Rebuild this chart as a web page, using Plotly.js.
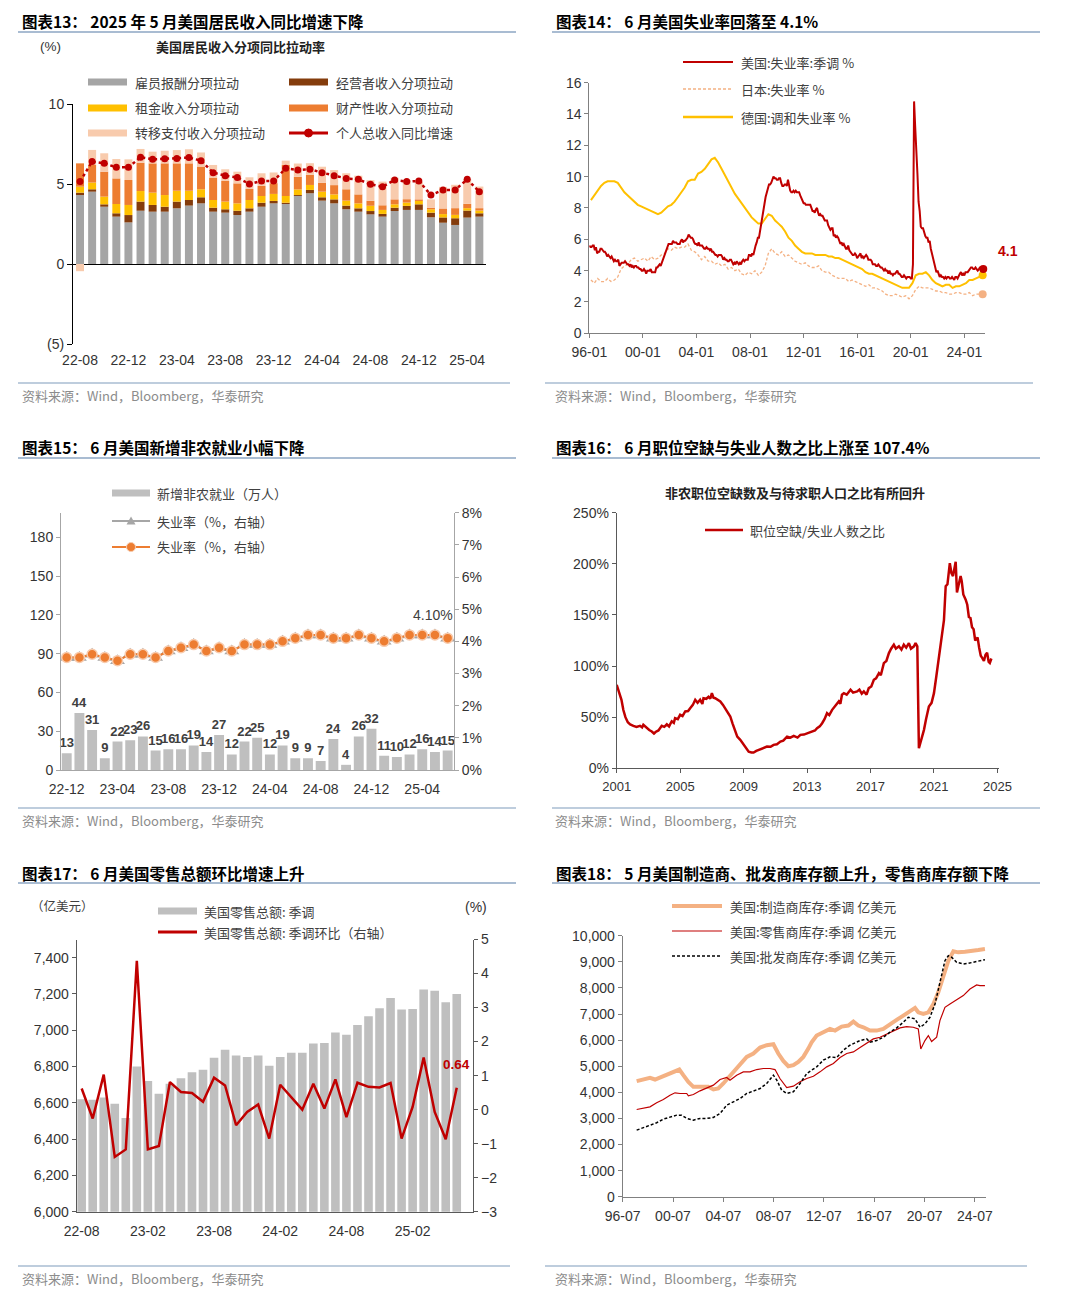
<!DOCTYPE html>
<html><head><meta charset="utf-8">
<script src="https://cdn.plot.ly/plotly-3.0.1.min.js"></script>
<style>html,body{margin:0;padding:0;background:#fff}#chart{width:1080px;height:1298px}</style>
</head><body><div id="chart"></div>
<script>
// ================= DATA =================
// 图表13
const p1Months = ['22-08','22-09','22-10','22-11','22-12','23-01','23-02','23-03','23-04','23-05','23-06','23-07','23-08','23-09','23-10','23-11','23-12','24-01','24-02','24-03','24-04','24-05','24-06','24-07','24-08','24-09','24-10','24-11','24-12','25-01','25-02','25-03','25-04','25-05'];
const p1Comp     = [4.31,4.52,3.58,2.96,2.60,3.33,3.27,3.27,3.48,3.65,3.79,3.27,3.21,3.06,3.27,3.58,3.79,3.75,4.25,4.42,3.96,3.79,3.42,3.27,3.10,2.96,3.31,3.38,3.38,2.92,2.58,2.44,2.90,2.96];
const p1Prop     = [0.15,0.15,0.15,0.21,0.46,0.57,0.42,0.31,0.42,0.35,0.38,0.25,0.21,0.27,0.21,0.25,0.15,0.08,0.06,0.21,0.21,0.25,0.23,0.21,0.21,0.17,0.21,0.25,0.35,0.29,0.33,0.42,0.44,0.21];
const p1Rent     = [0.37,0.42,0.48,0.58,0.63,0.66,0.77,0.73,0.68,0.58,0.50,0.48,0.48,0.46,0.52,0.42,0.44,0.42,0.35,0.31,0.35,0.31,0.31,0.31,0.33,0.25,0.21,0.21,0.21,0.21,0.21,0.21,0.15,0.17];
const p1Asset    = [1.46,1.10,1.56,1.60,1.56,1.77,1.83,1.98,1.71,1.71,1.42,1.40,1.29,1.25,0.69,0.63,0.67,1.94,0.79,0.63,0.56,0.58,0.71,0.56,0.31,0.29,0.31,0.21,0.10,0.10,0.35,0.42,0.27,0.15];
const p1Transfer = [-0.45,0.94,1.15,1.21,1.29,0.86,0.73,0.79,0.83,0.88,0.88,0.79,0.73,0.73,0.73,0.79,0.67,0.27,0.83,0.73,1.00,0.94,1.00,1.17,1.29,1.48,1.35,1.21,1.10,0.52,1.35,1.46,1.54,1.35];
const p1Total    = [5.15,6.40,6.29,6.04,6.04,6.67,6.54,6.58,6.60,6.65,6.46,5.71,5.52,5.40,5.00,5.19,5.19,5.98,5.88,5.92,5.71,5.52,5.35,5.29,4.98,4.83,5.25,5.15,5.19,4.31,4.63,4.63,5.29,4.52];
const p1Names = ['雇员报酬分项拉动','经营者收入分项拉动','租金收入分项拉动','财产性收入分项拉动','转移支付收入分项拉动','个人总收入同比增速'];

// 图表14 (monthly US from 1996-01; quarterly JP/DE from 1996Q1)
const p2US = [
5.6,5.5,5.5,5.6,5.6,5.3,5.5,5.1,5.2,5.2,5.4,5.4,
5.3,5.2,5.2,5.1,4.9,5.0,4.9,4.8,4.9,4.7,4.6,4.7,
4.6,4.6,4.7,4.3,4.4,4.5,4.5,4.5,4.6,4.5,4.4,4.4,
4.3,4.4,4.2,4.3,4.2,4.3,4.3,4.2,4.2,4.1,4.1,4.0,
4.0,4.1,4.0,3.8,4.0,4.0,4.0,4.1,3.9,3.9,3.9,3.9,
4.2,4.2,4.3,4.4,4.3,4.5,4.6,4.9,5.0,5.3,5.5,5.7,
5.7,5.7,5.7,5.9,5.8,5.8,5.8,5.7,5.7,5.7,5.9,6.0,
5.8,5.9,5.9,6.0,6.1,6.3,6.2,6.1,6.1,6.0,5.8,5.7,
5.7,5.6,5.8,5.6,5.6,5.6,5.5,5.4,5.4,5.5,5.4,5.4,
5.3,5.4,5.2,5.2,5.1,5.0,5.0,4.9,5.0,5.0,5.0,4.9,
4.7,4.8,4.7,4.7,4.6,4.6,4.7,4.7,4.5,4.4,4.5,4.4,
4.6,4.5,4.4,4.5,4.4,4.6,4.7,4.6,4.7,4.7,4.7,5.0,
5.0,4.9,5.1,5.0,5.4,5.6,5.8,6.1,6.1,6.5,6.8,7.3,
7.8,8.3,8.7,9.0,9.4,9.5,9.5,9.6,9.8,10.0,9.9,9.9,
9.8,9.8,9.9,9.9,9.6,9.4,9.4,9.5,9.5,9.4,9.8,9.3,
9.1,9.0,9.0,9.1,9.0,9.1,9.0,9.0,9.0,8.8,8.6,8.5,
8.3,8.3,8.2,8.2,8.2,8.2,8.2,8.0,7.8,7.8,7.7,7.9,
8.0,7.7,7.5,7.6,7.5,7.5,7.3,7.2,7.2,7.2,6.9,6.7,
6.6,6.7,6.7,6.2,6.3,6.1,6.2,6.1,5.9,5.7,5.8,5.6,
5.7,5.5,5.4,5.4,5.6,5.3,5.2,5.1,5.0,5.0,5.1,5.0,
4.8,4.9,5.0,5.1,4.8,4.9,4.8,4.9,5.0,4.9,4.7,4.7,
4.7,4.6,4.4,4.4,4.4,4.3,4.3,4.4,4.3,4.2,4.2,4.1,
4.0,4.1,4.0,4.0,3.8,4.0,3.8,3.8,3.7,3.8,3.8,3.9,
4.0,3.8,3.8,3.7,3.6,3.6,3.7,3.6,3.5,3.6,3.6,3.6,
3.5,3.5,4.4,14.8,13.2,11.0,10.2,8.4,7.8,6.8,6.7,6.7,
6.4,6.2,6.1,6.1,5.8,5.9,5.4,5.1,4.7,4.5,4.2,3.9,
4.0,3.8,3.6,3.7,3.6,3.6,3.5,3.6,3.5,3.6,3.6,3.5,
3.5,3.6,3.5,3.4,3.6,3.6,3.5,3.7,3.8,3.9,3.7,3.8,
3.7,3.9,3.9,3.9,4.0,4.1,4.2,4.2,4.1,4.1,4.2,4.1,
4.0,4.1,4.2,4.2,4.2,4.1];
const p2JP = [
3.4,3.2,3.5,3.3, 3.3,3.5,3.3,3.4, 3.6,4.1,4.3,4.4, 4.7,4.8,4.6,4.7, 4.8,4.6,4.9,4.7,
4.8,5.0,5.1,5.4, 5.3,5.5,5.4,5.5, 5.5,5.7,5.3,5.2, 5.0,4.7,4.9,4.6, 4.6,4.4,4.5,4.3,
4.4,4.1,4.2,4.0, 4.1,3.8,3.7,3.9, 3.8,4.0,3.7,3.9, 4.3,5.1,5.4,5.1, 5.0,5.2,4.9,5.0,
4.8,4.6,4.5,4.4, 4.5,4.3,4.2,4.2, 4.3,4.0,3.9,3.9, 3.7,3.6,3.5,3.5, 3.5,3.3,3.4,3.3,
3.2,3.1,3.0,3.1, 2.9,2.9,2.8,2.7, 2.5,2.4,2.4,2.5, 2.4,2.3,2.4,2.2, 2.4,2.8,3.0,2.9,
2.9,2.9,2.8,2.7, 2.7,2.6,2.6,2.5, 2.5,2.6,2.6,2.5, 2.5,2.6,2.4,2.5, 2.5,2.5];
const p2DE = [
8.5,8.8,9.1,9.4, 9.6,9.7,9.7,9.7, 9.6,9.3,9.0,8.8, 8.6,8.4,8.2,8.1, 8.0,7.9,7.8,7.7,
7.6,7.7,7.9,8.1, 8.2,8.4,8.7,9.0, 9.3,9.7,9.8,9.8, 10.2,10.3,10.5,10.8, 11.1,11.2,10.9,10.5,
10.1,9.7,9.3,8.9, 8.6,8.3,8.0,7.7, 7.4,7.2,7.0,7.0, 7.3,7.6,7.5,7.2, 7.0,6.8,6.5,6.1,
5.9,5.6,5.4,5.2, 5.1,5.1,5.1,5.0, 5.0,5.0,5.0,4.9, 4.9,4.8,4.8,4.7, 4.6,4.5,4.4,4.3,
4.2,4.1,3.9,3.8, 3.8,3.7,3.6,3.5, 3.4,3.3,3.2,3.1, 3.0,2.9,2.9,2.9, 3.2,3.7,3.8,3.8,
3.9,3.7,3.4,3.2, 3.1,3.0,3.1,3.1, 2.9,3.0,3.0,3.1, 3.2,3.4,3.4,3.5, 3.6,3.7];
const p2Names = ['美国:失业率:季调 %','日本:失业率 %','德国:调和失业率 %'];
const p2TickDates = ['1996-01-01','2000-01-01','2004-01-01','2008-01-01','2012-01-01','2016-01-01','2020-01-01','2024-01-01'];
const p2TickText = ['96-01','00-01','04-01','08-01','12-01','16-01','20-01','24-01'];

// 图表15
const p3Months = ['22-12','23-01','23-02','23-03','23-04','23-05','23-06','23-07','23-08','23-09','23-10','23-11','23-12','24-01','24-02','24-03','24-04','24-05','24-06','24-07','24-08','24-09','24-10','24-11','24-12','25-01','25-02','25-03','25-04','25-05','25-06'];
const p3Payrolls = [13,44,31,9,22,23,26,15,16,16,19,14,27,12,22,25,12,19,9,9,7,24,4,26,32,11,10,12,16,14,15];
const p3Unemp = [3.5,3.5,3.6,3.5,3.4,3.6,3.6,3.5,3.7,3.8,3.9,3.7,3.8,3.7,3.9,3.9,3.9,4.0,4.1,4.2,4.2,4.1,4.1,4.2,4.1,4.0,4.1,4.2,4.2,4.2,4.1];
const p3Names = ['新增非农就业（万人）','失业率（%，右轴）','失业率（%，右轴）'];

// 图表16 (positions)
const p4Year = [
2001.00,2001.10,2001.20,2001.30,2001.42,2001.55,2001.70,2001.85,2002.05,2002.25,
2002.47,2002.60,2002.68,2002.90,2003.05,2003.21,2003.35,2003.45,2003.63,2003.84,
2004.00,2004.16,2004.30,2004.47,2004.60,2004.68,2004.85,2005.00,2005.15,2005.32,
2005.50,2005.63,2005.80,2005.95,2006.10,2006.26,2006.40,2006.47,2006.65,2006.79,
2006.90,2007.00,2007.10,2007.21,2007.40,2007.53,2007.70,2007.84,2008.00,2008.16,
2008.30,2008.47,2008.60,2008.79,2008.95,2009.10,2009.20,2009.32,2009.50,2009.63,
2009.80,2009.95,2010.20,2010.47,2010.70,2010.89,2011.10,2011.32,2011.50,2011.74,
2011.95,2012.16,2012.40,2012.58,2012.80,2013.00,2013.15,2013.32,2013.50,2013.63,
2013.80,2013.95,2014.10,2014.26,2014.40,2014.58,2014.80,2015.00,2015.10,2015.20,
2015.32,2015.50,2015.74,2015.90,2016.16,2016.30,2016.45,2016.58,2016.75,2016.89,
2017.05,2017.21,2017.35,2017.53,2017.65,2017.84,2018.00,2018.16,2018.30,2018.47,
2018.60,2018.79,2018.95,2019.10,2019.25,2019.42,2019.55,2019.74,2019.84,2019.95,
2020.05,2020.20,2020.37,2020.50,2020.68,2020.85,2021.00,2021.15,2021.32,2021.50,
2021.63,2021.74,2021.85,2022.00,2022.10,2022.20,2022.30,2022.37,2022.45,2022.55,
2022.68,2022.75,2022.85,2023.00,2023.10,2023.20,2023.30,2023.40,2023.50,2023.60,
2023.75,2023.85,2023.95,2024.05,2024.15,2024.25,2024.35,2024.45,2024.52,2024.62];
const p4Ratio = [
81.7,76,71,67,57,50,45,43,41.5,40.5,
41.5,40,42.5,39,37.5,36,34,35.5,37,41.5,
40.5,43,41,46,44.5,49,48,52.3,51,55.6,
56,58.8,62,67,64,67,63,68.6,68,70,
68,73.5,69,68.6,67,65.4,62,58.8,55,50.7,
44,36,31,27.8,24,21.2,18,16.3,15.5,15.4,
17,18,20,21.2,21,22.9,23.5,26.1,27,31,
30,31.7,30,32.7,33,34.3,35,35.9,37,39.2,
41,44.1,48,53.9,52,57.2,62,65.4,63,72,
73.5,72,76.8,74,75.2,77,73,75.2,72,78.4,
80,86.6,88,93.1,91,102.9,105,112.7,117,120.9,
117,119.3,116,120.9,118,122.5,117,119.3,122.5,119.3,
19.6,28,37.6,48,60.5,64,73.5,90,109.5,130,
145,178,180,200.6,191,188,198,202,172,180,
188,183,170,165,160,148,147,138,136,125,
128,118,110,107.8,105,111,113,104,103,107.4];
const p4TickYears = [2001,2005,2009,2013,2017,2021,2025];

// 图表17
const p5Months = ['22-08','22-09','22-10','22-11','22-12','23-01','23-02','23-03','23-04','23-05','23-06','23-07','23-08','23-09','23-10','23-11','23-12','24-01','24-02','24-03','24-04','24-05','24-06','24-07','24-08','24-09','24-10','24-11','24-12','25-01','25-02','25-03','25-04','25-05','25-06'];
const p5Sales = [6620,6617,6630,6595,6516,6800,6720,6650,6705,6736,6769,6782,6848,6892,6861,6852,6861,6804,6852,6876,6876,6927,6929,6988,6975,7029,7077,7121,7177,7114,7117,7225,7217,7154,7199];
const p5MoM = [0.62,-0.26,1.03,-1.39,-1.17,4.37,-1.17,-1.07,0.81,0.52,0.49,0.23,0.94,0.71,-0.46,-0.07,0.15,-0.85,0.73,0.37,0.00,0.76,0.03,0.89,-0.22,0.79,0.67,0.65,0.78,-0.85,0.08,1.53,-0.07,-0.87,0.64];
const p5Names = ['美国零售总额: 季调','美国零售总额: 季调环比（右轴）'];

// 图表18 (positions)
const p6MfgX = [1997.61,1998.14,1998.67,1999.07,1999.6,2000.13,2000.66,2001.0,2001.32,2001.72,2002.12,2002.51,2002.91,2003.31,2003.71,2004.1,2004.5,2004.9,2005.3,2005.83,2006.36,2006.89,2007.42,2007.95,2008.48,2008.87,2009.27,2009.67,2010.07,2010.46,2010.86,2011.26,2011.52,2011.92,2012.45,2012.98,2013.38,2013.91,2014.44,2014.84,2015.23,2015.63,2016.16,2016.69,2017.22,2017.75,2018.28,2018.81,2019.34,2019.74,2020.0,2020.4,2020.8,2021.2,2021.59,2021.99,2022.39,2022.79,2023.18,2023.71,2024.24,2024.77,2025.3];
const p6Mfg = [4426,4500,4554,4490,4592,4719,4821,4872,4656,4400,4209,4209,4247,4209,4107,4145,4337,4566,4783,5102,5357,5485,5714,5804,5842,5485,5204,5000,5038,5166,5357,5676,5918,6173,6301,6429,6365,6518,6556,6709,6556,6492,6365,6365,6429,6620,6773,6939,7130,7232,7066,7003,7066,7385,7832,8406,9043,9401,9362,9388,9401,9452,9490];
const p6RetX = [1997.61,1998.14,1998.67,1999.2,1999.73,2000.26,2000.66,2001.06,2001.59,2001.72,2002.12,2002.65,2003.18,2003.71,2004.24,2004.77,2005.03,2005.56,2006.09,2006.62,2007.15,2007.68,2008.21,2008.61,2009.0,2009.54,2010.07,2010.6,2011.13,2011.66,2012.19,2012.72,2013.25,2013.78,2014.31,2014.84,2015.37,2015.9,2016.43,2016.96,2017.49,2018.02,2018.55,2019.07,2019.6,2020.0,2020.2,2020.53,2020.8,2021.06,2021.46,2021.72,2022.12,2022.52,2023.05,2023.58,2024.11,2024.64,2024.9,2025.3];
const p6Ret = [3342,3380,3444,3597,3724,3890,3980,3954,3954,3865,3916,4056,4171,4273,4490,4566,4464,4656,4783,4783,4872,4911,4911,4872,4528,4184,4235,4401,4528,4617,4783,4974,5102,5332,5485,5548,5714,5867,6046,6110,6237,6365,6467,6518,6492,6429,5663,5982,6173,5944,6110,6747,7257,7385,7538,7704,7959,8112,8087,8087];
const p6WhsX = [1997.61,1998.14,1998.67,1999.2,1999.73,2000.26,2000.8,2001.19,2001.59,2002.12,2002.65,2003.18,2003.71,2004.24,2004.77,2005.3,2005.83,2006.36,2006.89,2007.42,2007.95,2008.48,2008.75,2009.14,2009.54,2010.07,2010.6,2011.13,2011.52,2011.92,2012.45,2012.98,2013.51,2014.04,2014.57,2015.1,2015.37,2015.9,2016.16,2016.69,2017.22,2017.75,2018.28,2018.81,2019.21,2019.74,2020.14,2020.53,2020.93,2021.33,2021.72,2022.12,2022.39,2022.66,2023.05,2023.58,2023.98,2024.38,2024.9,2025.3];
const p6Whs = [2551,2653,2742,2832,2972,3061,3125,3125,2998,2934,2998,2998,3036,3189,3508,3635,3763,3954,4056,4145,4337,4656,4464,4082,3954,4018,4337,4719,4847,4974,5230,5357,5332,5612,5804,5931,5982,6046,5918,5982,6110,6301,6467,6684,6875,6811,6492,6620,6875,7385,8151,9043,9235,9171,8980,8916,8941,8980,9043,9082];
const p6Names = ['美国:制造商库存:季调 亿美元','美国:零售商库存:季调 亿美元','美国:批发商库存:季调 亿美元'];
const p6TickVals = [1996.5,2000.5,2004.5,2008.5,2012.5,2016.5,2020.5,2024.5];
const p6TickText = ['96-07','00-07','04-07','08-07','12-07','16-07','20-07','24-07'];

const headers = ['图表13： 2025 年 5 月美国居民收入同比增速下降','图表14： 6 月美国失业率回落至 4.1%','图表15： 6 月美国新增非农就业小幅下降','图表16： 6 月职位空缺与失业人数之比上涨至 107.4%','图表17： 6 月美国零售总额环比增速上升','图表18： 5 月美国制造商、批发商库存额上升，零售商库存额下降'];
const sourceText = '资料来源：Wind，Bloomberg，华泰研究';

// ================= HELPERS =================
const FONT_NUM = '"Liberation Sans", Arial, sans-serif';
const FONT_CJK = '"Noto Sans CJK SC", "Noto Sans", sans-serif';
const W = 1080, H = 1298;
const px = v => v / W;
const py = v => 1 - v / H;
const idx = a => a.map((_, i) => i);
const C = {red:'#c00000', gray:'#a5a5a5', lgray:'#bfbfbf', brown:'#843c0c', yellow:'#ffc000', orange:'#ed7d31', peach:'#f8cbad', jp:'#f4b183', mfg:'#f4b183'};

function ax(extra){
  return Object.assign({showgrid:false, zeroline:false, showline:true, linecolor:'#595959', linewidth:1,
    ticks:'outside', ticklen:4, tickwidth:1, tickcolor:'#595959',
    tickfont:{family:FONT_NUM, size:14, color:'#333333'}, fixedrange:true}, extra);
}
const monthDates = (start, n) => Array.from({length:n}, (_, i) => { const m = i; const y = start + Math.floor(m/12); return y + '-' + String(m%12+1).padStart(2,'0') + '-01'; });
const quarterDates = (start, n) => Array.from({length:n}, (_, i) => { const y = start + Math.floor(i/4); return y + '-' + String(2 + 3*(i%4)).padStart(2,'0') + '-15'; });

const traces = [];
const shapes = [];
const annotations = [];

function text(t, x, y, opt){
  annotations.push(Object.assign({text:t, xref:'paper', yref:'paper', x:px(x), y:py(y), xanchor:'left', yanchor:'middle', showarrow:false,
    font:{family:FONT_CJK, size:13, color:'#404040'}}, opt||{}));
}
function hline(x0, x1, y, color, width, dash){
  shapes.push({type:'line', xref:'paper', yref:'paper', x0:px(x0), x1:px(x1), y0:py(y), y1:py(y), line:{color:color, width:width, dash:dash||'solid'}});
}
function rect(x0, x1, yc, h, color){
  shapes.push({type:'rect', xref:'paper', yref:'paper', x0:px(x0), x1:px(x1), y0:py(yc+h/2), y1:py(yc-h/2), fillcolor:color, line:{width:0}});
}
function dot(xc, yc, r, color, lineColor){
  shapes.push({type:'circle', xref:'paper', yref:'paper', x0:px(xc-r), x1:px(xc+r), y0:py(yc+r), y1:py(yc-r), fillcolor:color, line:{color:lineColor||color, width:1}});
}
function tri(xc, yc, s, color){
  shapes.push({type:'path', xref:'paper', yref:'paper', path:`M ${px(xc)},${py(yc-s)} L ${px(xc+s)},${py(yc+s*0.8)} L ${px(xc-s)},${py(yc+s*0.8)} Z`, fillcolor:color, line:{width:0}});
}

// ---------- frame: headers, rules, sources ----------
const colX = [20, 554];
const headY = [21, 447, 873];
const ruleY = [32, 458, 883];
const sepY = [383, 808, 1266];
const srcY = [395, 820, 1278];
headers.forEach((h, i) => {
  const c = i % 2, r = Math.floor(i / 2);
  text('<b>' + h + '</b>', colX[c], headY[r], {font:{family:FONT_CJK, size:15.5, color:'#000'}});
  hline(c ? 552 : 18, c ? 1040 : 516, ruleY[r], '#a9bcd2', 2);
  const sepL = [[18,510],[545,1033],[18,516],[552,1040],[18,510],[545,1027]][i];
  hline(sepL[0], sepL[1], sepY[r], '#a9bcd2', 1.5);
  text(sourceText, c ? 553 : 20, srcY[r], {font:{family:FONT_CJK, size:13, color:'#8c8c8c'}});
});

// ================= PANEL 1 =================
const p1Idx = idx(p1Months);
const p1Tick = p1Idx.filter(i => i % 4 === 0);
const p1Series = [p1Comp, p1Prop, p1Rent, p1Asset, p1Transfer];
const p1Cols = [C.gray, C.brown, C.yellow, C.orange, C.peach];
p1Series.forEach((s, k) => traces.push({type:'bar', x:p1Idx, y:s, xaxis:'x', yaxis:'y', width:0.66, marker:{color:p1Cols[k], line:{width:0}}, name:p1Names[k], hoverinfo:'skip'}));
traces.push({type:'scatter', mode:'lines+markers', x:p1Idx, y:p1Total, xaxis:'x', yaxis:'y', name:p1Names[5],
  line:{color:C.red, width:2.5, dash:'dot'}, marker:{color:C.red, size:7}, cliponaxis:false});
const p1Range = [-0.58, 33.55];
const layout = {};
layout.xaxis = ax({domain:[px(73), px(486)], anchor:'y', range:p1Range, tickmode:'array', tickvals:p1Tick, ticktext:p1Tick.map(i => p1Months[i]), showline:false, ticks:'', ticklabelstandoff:6});
layout.yaxis = ax({domain:[py(344), py(104)], anchor:'x', range:[-5, 10], tickmode:'array', tickvals:[-5,0,5,10], ticktext:['(5)','0','5','10'], linecolor:'#000', tickcolor:'#000', ticklen:5, zeroline:true, zerolinecolor:'#000', zerolinewidth:1});
layout.xaxis7 = ax({overlaying:'x', anchor:'free', position:py(264), range:p1Range, tickmode:'array', tickvals:p1Tick.filter(i => i > 0).map(i => i - 0.5), showticklabels:false, showline:false, tickcolor:'#000', ticklen:4});
text('(%)', 38, 47, {font:{family:FONT_NUM, size:13.5, color:'#333'}});
text('<b>美国居民收入分项同比拉动率</b>', 240, 47, {xanchor:'center', font:{family:FONT_CJK, size:13, color:'#222'}});
// legend
const p1LegRows = [82, 108, 133];
rect(88, 127, p1LegRows[0], 7, C.gray);   text(p1Names[0], 133, p1LegRows[0]);
rect(88, 127, p1LegRows[1], 7, C.yellow); text(p1Names[2], 133, p1LegRows[1]);
rect(88, 127, p1LegRows[2], 7, C.peach);  text(p1Names[4], 133, p1LegRows[2]);
rect(289, 328, p1LegRows[0], 7, C.brown); text(p1Names[1], 334, p1LegRows[0]);
rect(289, 328, p1LegRows[1], 7, C.orange);text(p1Names[3], 334, p1LegRows[1]);
hline(289, 328, p1LegRows[2], C.red, 3); dot(308.5, p1LegRows[2], 4, C.red); text(p1Names[5], 334, p1LegRows[2]);

// ================= PANEL 2 =================
const p2USx = monthDates(1996, p2US.length);
const p2Qx = quarterDates(1996, p2JP.length);
traces.push({type:'scatter', mode:'lines', x:p2Qx, y:p2DE, xaxis:'x2', yaxis:'y2', name:p2Names[2], line:{color:C.yellow, width:2}});
traces.push({type:'scatter', mode:'lines', x:p2Qx, y:p2JP, xaxis:'x2', yaxis:'y2', name:p2Names[1], line:{color:C.jp, width:1.3, dash:'3px,2px'}});
traces.push({type:'scatter', mode:'lines', x:p2USx, y:p2US, xaxis:'x2', yaxis:'y2', name:p2Names[0], line:{color:C.red, width:2}});
[[p2Qx, p2DE, C.yellow], [p2Qx, p2JP, C.jp], [p2USx, p2US, C.red]].forEach(([xs, ys, col]) => {
  traces.push({type:'scatter', mode:'markers', x:[xs[xs.length-1]], y:[ys[ys.length-1]], xaxis:'x2', yaxis:'y2', marker:{color:col, size:8}, cliponaxis:false, hoverinfo:'skip'});
});
layout.xaxis2 = ax({domain:[px(589.3), px(985)], anchor:'y2', type:'date', range:['1996-01-01','2025-07-18'], tickmode:'array', tickvals:p2TickDates, ticktext:p2TickText, linecolor:'#808080', tickcolor:'#808080', ticklabelstandoff:2});
layout.yaxis2 = ax({domain:[py(333.3), py(82.6)], anchor:'x2', range:[0, 16], tickmode:'linear', tick0:0, dtick:2, linecolor:'#808080', tickcolor:'#808080'});
text('<b>' + p2US[p2US.length-1].toFixed(1) + '</b>', 1008, 251, {xanchor:'center', font:{family:FONT_NUM, size:14, color:C.red}});
const p2LegRows = [62, 89, 117];
hline(683, 733, p2LegRows[0], C.red, 2);            text(p2Names[0], 739, p2LegRows[0]);
hline(683, 733, p2LegRows[1], C.jp, 1.5, '3px,2px'); text(p2Names[1], 739, p2LegRows[1]);
hline(683, 733, p2LegRows[2], C.yellow, 2.5);       text(p2Names[2], 739, p2LegRows[2]);

// ================= PANEL 3 =================
const p3Idx = idx(p3Months);
const p3Tick = p3Idx.filter(i => i % 4 === 0);
const p3Range = [-0.45, 30.5];
traces.push({type:'bar', x:p3Idx, y:p3Payrolls, xaxis:'x3', yaxis:'y3', width:0.78, marker:{color:C.lgray}, name:p3Names[0],
  text:p3Payrolls.map(String), textposition:'outside', constraintext:'none', cliponaxis:false,
  textfont:{family:FONT_NUM, size:13, color:'#404040', weight:'bold'}});
traces.push({type:'scatter', mode:'lines+markers', x:p3Idx, y:p3Unemp, xaxis:'x3', yaxis:'y4', name:p3Names[1], line:{color:'#a6a6a6', width:2}, marker:{symbol:'triangle-up', size:13, color:'#a6a6a6'}});
traces.push({type:'scatter', mode:'lines+markers', x:p3Idx, y:p3Unemp, xaxis:'x3', yaxis:'y4', name:p3Names[2], line:{color:C.orange, width:2}, marker:{symbol:'circle', size:10, color:C.orange, line:{color:'#f8cbad', width:1.5}}});
layout.xaxis3 = ax({domain:[px(61), px(454)], anchor:'y3', range:p3Range, tickmode:'array', tickvals:p3Tick, ticktext:p3Tick.map(i => p3Months[i]), ticks:'', linecolor:'#a6a6a6', ticklabelstandoff:6});
layout.xaxis8 = ax({overlaying:'x3', anchor:'y3', range:p3Range, tickmode:'array', tickvals:p3Tick.filter(i => i > 0).map(i => i - 0.5), showticklabels:false, showline:false, tickcolor:'#a6a6a6'});
layout.yaxis3 = ax({domain:[py(770), py(512.7)], anchor:'x3', range:[0, 199], tickmode:'array', tickvals:[0,30,60,90,120,150,180], linecolor:'#a6a6a6', tickcolor:'#a6a6a6'});
layout.yaxis4 = ax({overlaying:'y3', anchor:'x3', side:'right', range:[0, 8], tickmode:'linear', tick0:0, dtick:1, ticksuffix:'%', linecolor:'#a6a6a6', tickcolor:'#a6a6a6'});
text(p3Unemp[p3Unemp.length-1].toFixed(2) + '%', 455, 615, {xanchor:'right', font:{family:FONT_NUM, size:14, color:'#404040'}});
const p3LegRows = [493, 521, 547];
rect(112, 150, p3LegRows[0], 7, C.lgray);       text(p3Names[0], 155, p3LegRows[0]);
hline(112, 150, p3LegRows[1], '#a6a6a6', 2); tri(131, p3LegRows[1], 4.5, '#a6a6a6'); text(p3Names[1], 155, p3LegRows[1]);
hline(112, 150, p3LegRows[2], C.orange, 2); dot(131, p3LegRows[2], 4.5, C.orange, '#f8cbad'); text(p3Names[2], 155, p3LegRows[2]);

// ================= PANEL 4 =================
traces.push({type:'scatter', mode:'lines', x:p4Year, y:p4Ratio, xaxis:'x4', yaxis:'y5', name:'职位空缺/失业人数之比', line:{color:C.red, width:2.5}});
layout.xaxis4 = ax({domain:[px(616.7), px(999)], anchor:'y5', range:[2001, 2025.1], tickmode:'array', tickvals:p4TickYears, ticktext:p4TickYears.map(String), tickfont:{family:FONT_NUM, size:13, color:'#333'}, ticklabelstandoff:2});
layout.yaxis5 = ax({domain:[py(768.3), py(512.7)], anchor:'x4', range:[0, 250], tickmode:'linear', tick0:0, dtick:50, ticksuffix:'%'});
text('<b>非农职位空缺数及与待求职人口之比有所回升</b>', 795, 492, {xanchor:'center', font:{family:FONT_CJK, size:13, color:'#222'}});
hline(705, 743, 530, C.red, 2.5); text('职位空缺/失业人数之比', 748, 530);

// ================= PANEL 5 =================
const p5Idx = idx(p5Months);
const p5Tick = p5Idx.filter(i => i % 6 === 0);
const p5Range = [-0.45, 35.5];
traces.push({type:'bar', x:p5Idx, y:p5Sales, xaxis:'x5', yaxis:'y6', width:0.78, marker:{color:C.lgray}, name:p5Names[0]});
traces.push({type:'scatter', mode:'lines', x:p5Idx, y:p5MoM, xaxis:'x5', yaxis:'y7', name:p5Names[1], line:{color:C.red, width:2.5}});
layout.xaxis5 = ax({domain:[px(76.7), px(473.3)], anchor:'y6', range:p5Range, tickmode:'array', tickvals:p5Tick, ticktext:p5Tick.map(i => p5Months[i]), ticks:'', ticklabelstandoff:6});
layout.xaxis9 = ax({overlaying:'x5', anchor:'y6', range:p5Range, tickmode:'array', tickvals:p5Tick.filter(i => i > 0).map(i => i - 0.5), showticklabels:false, showline:false});
layout.yaxis6 = ax({domain:[py(1211.7), py(939.5)], anchor:'x5', range:[6000, 7500], tickmode:'array', tickvals:[6000,6200,6400,6600,6800,7000,7200,7400], tickformat:','});
layout.yaxis7 = ax({overlaying:'y6', anchor:'x5', side:'right', range:[-3, 5], tickmode:'linear', tick0:-3, dtick:1});
text('<b>' + p5MoM[p5MoM.length-1].toFixed(2) + '</b>', 456, 1064, {xanchor:'center', font:{family:FONT_NUM, size:13.5, color:C.red}});
text('（亿美元）', 62, 905, {xanchor:'center', font:{family:FONT_CJK, size:12.5, color:'#404040'}});
text('(%)', 476, 907, {xanchor:'center', font:{family:FONT_NUM, size:14, color:'#333'}});
rect(158, 197, 911, 7, C.lgray); text(p5Names[0], 202, 911);
hline(158, 197, 932, C.red, 3);  text(p5Names[1], 202, 932);

// ================= PANEL 6 =================
traces.push({type:'scatter', mode:'lines', x:p6MfgX, y:p6Mfg, xaxis:'x6', yaxis:'y8', name:p6Names[0], line:{color:C.mfg, width:4}});
traces.push({type:'scatter', mode:'lines', x:p6RetX, y:p6Ret, xaxis:'x6', yaxis:'y8', name:p6Names[1], line:{color:C.red, width:1.2}});
traces.push({type:'scatter', mode:'lines', x:p6WhsX, y:p6Whs, xaxis:'x6', yaxis:'y8', name:p6Names[2], line:{color:'#000', width:1.5, dash:'3px,2px'}});
layout.xaxis6 = ax({domain:[px(622.7), px(985.7)], anchor:'y8', range:[1996.5, 2025.36], tickmode:'array', tickvals:p6TickVals, ticktext:p6TickText, linecolor:'#808080', tickcolor:'#808080', ticklabelstandoff:2});
layout.yaxis8 = ax({domain:[py(1196.7), py(935.7)], anchor:'x6', range:[0, 10000], tickmode:'linear', tick0:0, dtick:1000, tickformat:',', linecolor:'#808080', tickcolor:'#808080'});
hline(672, 722, 906, C.mfg, 4);                 text(p6Names[0], 728, 906);
hline(672, 722, 931, C.red, 1.2);                text(p6Names[1], 728, 931);
hline(672, 722, 956, '#000', 1.5, '3px,2px');    text(p6Names[2], 728, 956);

Object.assign(layout, {
  width:W, height:H, margin:{l:0, r:0, t:0, b:0}, paper_bgcolor:'#fff', plot_bgcolor:'rgba(0,0,0,0)',
  showlegend:false, barmode:'relative', shapes:shapes, annotations:annotations,
  font:{family:FONT_NUM, size:13, color:'#333'}
});
Plotly.newPlot('chart', traces, layout, {displayModeBar:false, staticPlot:true});
</script></body></html>
